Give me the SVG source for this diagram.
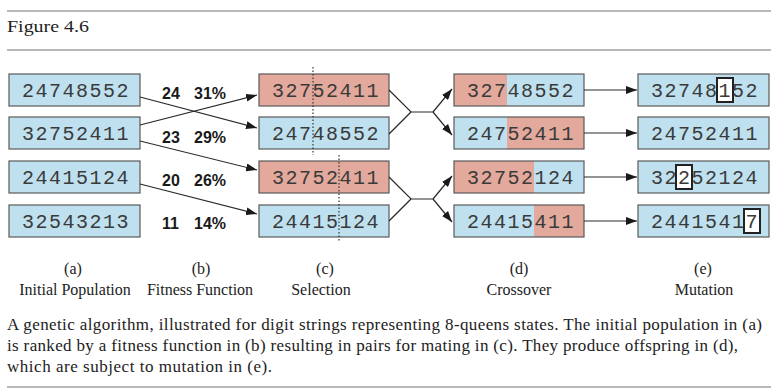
<svg xmlns="http://www.w3.org/2000/svg" width="780" height="391" viewBox="0 0 780 391">
<style>
.rule{stroke:#a0a0a0;stroke-width:1.6;fill:none}
.bx{stroke:#5a5a5a;stroke-width:1.2}
.blue{fill:#bfe0ef}
.red{fill:#e2a99c}
.ol{fill:none;stroke:#5a5a5a;stroke-width:1.2}
.dig{font-family:"Liberation Mono","DejaVu Sans Mono",monospace;font-size:20px;letter-spacing:1.5px;fill:#3a3a3a}
.fit{font-family:"Liberation Sans",Arial,sans-serif;font-weight:bold;font-size:16px;fill:#1a1a1a}
.lab{font-family:"Liberation Serif","Times New Roman",serif;font-size:16px;fill:#222;text-anchor:middle}
.cap{font-family:"Liberation Serif","Times New Roman",serif;font-size:17px;fill:#222}
.con{stroke:#2a2a2a;stroke-width:1.2;fill:none}
.arr{marker-end:url(#ah)}
.dot{stroke:#333;stroke-width:1.2;stroke-dasharray:1.5 2;fill:none}
.mut{fill:#fff;stroke:#222;stroke-width:2}
</style>
<defs>
<marker id="ah" markerUnits="userSpaceOnUse" markerWidth="11" markerHeight="8" refX="11" refY="4" orient="auto">
<path d="M0,0 L11,4 L0,8 z" fill="#1a1a1a"/>
</marker>
</defs>

<line class="rule" x1="7" y1="11" x2="771" y2="11"/>
<text class="cap" x="7" y="32" font-size="19" textLength="82" lengthAdjust="spacingAndGlyphs">Figure 4.6</text>
<line class="rule" x1="7" y1="50" x2="771" y2="50"/>

<!-- (a) initial population -->
<g id="a1"><rect class="bx blue" x="9" y="74" width="131" height="32"/><text class="dig" x="22" y="97">24748552</text></g>
<g id="a2"><rect class="bx blue" x="9" y="117" width="131" height="32"/><text class="dig" x="22" y="140">32752411</text></g>
<g id="a3"><rect class="bx blue" x="9" y="161" width="131" height="32"/><text class="dig" x="22" y="184">24415124</text></g>
<g id="a4"><rect class="bx blue" x="9" y="205" width="131" height="32"/><text class="dig" x="22" y="228">32543213</text></g>

<!-- (b) fitness -->
<g id="b1"><text class="fit" x="162" y="99">24</text><text class="fit" x="194" y="99">31%</text></g>
<g id="b2"><text class="fit" x="162" y="143">23</text><text class="fit" x="194" y="143">29%</text></g>
<g id="b3"><text class="fit" x="162" y="186">20</text><text class="fit" x="194" y="186">26%</text></g>
<g id="b4"><text class="fit" x="162" y="229">11</text><text class="fit" x="194" y="229">14%</text></g>

<!-- (c) selection -->
<g id="c1"><rect class="bx red" x="259" y="74" width="130" height="32"/><text class="dig" x="272" y="97">32752411</text></g>
<g id="c2"><rect class="bx blue" x="259" y="117" width="130" height="32"/><text class="dig" x="272" y="140">24748552</text></g>
<g id="c3"><rect class="bx red" x="259" y="161" width="130" height="32"/><text class="dig" x="272" y="184">32752411</text></g>
<g id="c4"><rect class="bx blue" x="259" y="205" width="130" height="32"/><text class="dig" x="272" y="228">24415124</text></g>
<line class="dot" x1="313" y1="67" x2="313" y2="155"/>
<line class="dot" x1="339" y1="155" x2="339" y2="242"/>

<!-- (d) crossover -->
<g id="d1"><rect class="red" x="454" y="74" width="53" height="32"/><rect class="blue" x="507" y="74" width="77" height="32"/><rect class="ol" x="454" y="74" width="130" height="32"/><text class="dig" x="467" y="97">32748552</text></g>
<g id="d2"><rect class="blue" x="454" y="117" width="53" height="32"/><rect class="red" x="507" y="117" width="77" height="32"/><rect class="ol" x="454" y="117" width="130" height="32"/><text class="dig" x="467" y="140">24752411</text></g>
<g id="d3"><rect class="red" x="454" y="161" width="80" height="32"/><rect class="blue" x="534" y="161" width="50" height="32"/><rect class="ol" x="454" y="161" width="130" height="32"/><text class="dig" x="467" y="184">32752124</text></g>
<g id="d4"><rect class="blue" x="454" y="205" width="80" height="32"/><rect class="red" x="534" y="205" width="50" height="32"/><rect class="ol" x="454" y="205" width="130" height="32"/><text class="dig" x="467" y="228">24415411</text></g>

<!-- (e) mutation -->
<g id="e1"><rect class="bx blue" x="638" y="74" width="131" height="32"/><rect class="mut" x="717" y="78" width="16" height="24"/><text class="dig" x="651" y="97">32748152</text></g>
<g id="e2"><rect class="bx blue" x="638" y="117" width="131" height="32"/><text class="dig" x="651" y="140">24752411</text></g>
<g id="e3"><rect class="bx blue" x="638" y="161" width="131" height="32"/><rect class="mut" x="676" y="165" width="16" height="24"/><text class="dig" x="651" y="184">32252124</text></g>
<g id="e4"><rect class="bx blue" x="638" y="205" width="131" height="32"/><rect class="mut" x="744" y="209" width="16" height="24"/><text class="dig" x="651" y="228">24415417</text></g>

<!-- connectors -->
<g id="connectors">
<line class="con arr" x1="140" y1="97" x2="257" y2="128"/>
<line class="con arr" x1="140" y1="125" x2="257" y2="95"/>
<line class="con arr" x1="140" y1="141" x2="257" y2="170"/>
<line class="con arr" x1="140" y1="184" x2="257" y2="214"/>
<polyline class="con" points="389,90 411,112 433,112"/>
<line class="con" x1="389" y1="134" x2="411" y2="112"/>
<line class="con arr" x1="433" y1="112" x2="452" y2="89"/>
<line class="con arr" x1="433" y1="112" x2="452" y2="135"/>
<polyline class="con" points="389,177 411,199 433,199"/>
<line class="con" x1="389" y1="221" x2="411" y2="199"/>
<line class="con arr" x1="433" y1="199" x2="452" y2="176"/>
<line class="con arr" x1="433" y1="199" x2="452" y2="222"/>
<line class="con arr" x1="584" y1="90" x2="637" y2="90"/>
<line class="con arr" x1="584" y1="133" x2="637" y2="133"/>
<line class="con arr" x1="584" y1="177" x2="637" y2="177"/>
<line class="con arr" x1="584" y1="221" x2="637" y2="221"/>
</g>

<!-- labels -->
<g id="labels">
<text class="lab" x="73" y="274">(a)</text>
<text class="lab" x="75" y="295">Initial Population</text>
<text class="lab" x="201" y="274">(b)</text>
<text class="lab" x="200" y="295">Fitness Function</text>
<text class="lab" x="325" y="274">(c)</text>
<text class="lab" x="321" y="295">Selection</text>
<text class="lab" x="519" y="274">(d)</text>
<text class="lab" x="519" y="295">Crossover</text>
<text class="lab" x="703" y="274">(e)</text>
<text class="lab" x="704" y="295">Mutation</text>
</g>

<!-- caption -->
<g id="caption">
<text class="cap" x="7" y="330" textLength="755" lengthAdjust="spacing">A genetic algorithm, illustrated for digit strings representing 8-queens states. The initial population in (a)</text>
<text class="cap" x="7" y="351" textLength="731" lengthAdjust="spacing">is ranked by a fitness function in (b) resulting in pairs for mating in (c). They produce offspring in (d),</text>
<text class="cap" x="7" y="372" textLength="265" lengthAdjust="spacing">which are subject to mutation in (e).</text>
</g>
<line class="rule" x1="7" y1="387" x2="771" y2="387"/>
</svg>
